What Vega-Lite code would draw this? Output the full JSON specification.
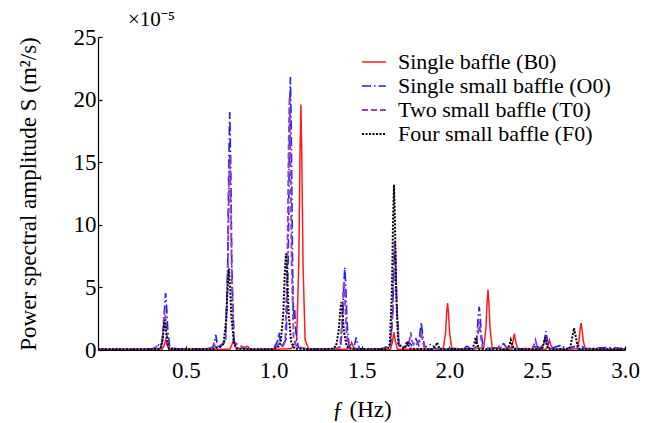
{
  "$schema": "https://vega.github.io/schema/vega-lite/v6.json",
  "autosize": "none",
  "width": 527,
  "height": 313,
  "padding": {"left": 98, "top": 37, "right": 29, "bottom": 73},
  "background": "white",
  "config": {
    "view": {"stroke": null},
    "font": "Liberation Serif",
    "axis": {"grid": false, "domainColor": "#000", "tickColor": "#000", "labelColor": "#000", "titleColor": "#000", "labelFont": "Liberation Serif", "titleFont": "Liberation Serif", "labelFontSize": 23, "titleFontSize": 23, "titleFontWeight": "normal", "domainWidth": 1.2, "tickWidth": 1.2}
  },
  "title": {"text": "×10⁻⁵", "anchor": "start", "frame": "group", "dx": 30, "offset": -4, "fontSize": 21, "font": "Liberation Serif", "fontWeight": "normal", "color": "#000"},
  "data": {"values": [
    {"s":"B0","f":0.0,"v":0.05},{"s":"B0","f":0.2,"v":0.05},{"s":"B0","f":0.33,"v":0.1},
    {"s":"B0","f":0.365,"v":0.05},{"s":"B0","f":0.377,"v":0.4},{"s":"B0","f":0.385,"v":0.8},{"s":"B0","f":0.393,"v":0.4},{"s":"B0","f":0.405,"v":0.05},
    {"s":"B0","f":0.5,"v":0.05},{"s":"B0","f":0.6,"v":0.1},{"s":"B0","f":0.7,"v":0.05},
    {"s":"B0","f":0.75,"v":0.05},{"s":"B0","f":0.762,"v":0.4},{"s":"B0","f":0.77,"v":0.8},{"s":"B0","f":0.778,"v":0.4},{"s":"B0","f":0.79,"v":0.05},
    {"s":"B0","f":0.83,"v":0.2},{"s":"B0","f":0.85,"v":0.3},{"s":"B0","f":0.87,"v":0.05},{"s":"B0","f":1.0,"v":0.05},{"s":"B0","f":1.1,"v":0.1},
    {"s":"B0","f":1.131,"v":0.8},{"s":"B0","f":1.143,"v":6.9},{"s":"B0","f":1.15,"v":15.7},{"s":"B0","f":1.155,"v":19.6},{"s":"B0","f":1.16,"v":15.7},{"s":"B0","f":1.167,"v":6.9},{"s":"B0","f":1.179,"v":0.8},{"s":"B0","f":1.2,"v":0.05},
    {"s":"B0","f":1.3,"v":0.05},{"s":"B0","f":1.42,"v":0.05},{"s":"B0","f":1.436,"v":0.3},{"s":"B0","f":1.444,"v":0.6},{"s":"B0","f":1.452,"v":0.3},{"s":"B0","f":1.465,"v":0.05},
    {"s":"B0","f":1.6,"v":0.05},{"s":"B0","f":1.665,"v":0.05},{"s":"B0","f":1.677,"v":0.7},{"s":"B0","f":1.685,"v":1.4},{"s":"B0","f":1.693,"v":0.7},{"s":"B0","f":1.705,"v":0.05},
    {"s":"B0","f":1.8,"v":0.05},{"s":"B0","f":1.9,"v":0.1},
    {"s":"B0","f":1.966,"v":0.15},{"s":"B0","f":1.978,"v":1.3},{"s":"B0","f":1.985,"v":3.0},{"s":"B0","f":1.99,"v":3.75},{"s":"B0","f":1.995,"v":3.0},{"s":"B0","f":2.002,"v":1.3},{"s":"B0","f":2.014,"v":0.15},
    {"s":"B0","f":2.1,"v":0.05},
    {"s":"B0","f":2.196,"v":0.2},{"s":"B0","f":2.208,"v":1.7},{"s":"B0","f":2.215,"v":3.8},{"s":"B0","f":2.22,"v":4.8},{"s":"B0","f":2.225,"v":3.8},{"s":"B0","f":2.232,"v":1.7},{"s":"B0","f":2.244,"v":0.2},
    {"s":"B0","f":2.3,"v":0.05},{"s":"B0","f":2.35,"v":0.05},{"s":"B0","f":2.362,"v":0.65},{"s":"B0","f":2.37,"v":1.3},{"s":"B0","f":2.378,"v":0.65},{"s":"B0","f":2.39,"v":0.05},
    {"s":"B0","f":2.5,"v":0.05},{"s":"B0","f":2.55,"v":0.05},{"s":"B0","f":2.562,"v":0.4},{"s":"B0","f":2.57,"v":0.8},{"s":"B0","f":2.578,"v":0.4},{"s":"B0","f":2.59,"v":0.05},
    {"s":"B0","f":2.65,"v":0.05},{"s":"B0","f":2.726,"v":0.1},{"s":"B0","f":2.738,"v":0.75},{"s":"B0","f":2.745,"v":1.7},{"s":"B0","f":2.75,"v":2.15},{"s":"B0","f":2.755,"v":1.7},{"s":"B0","f":2.762,"v":0.75},{"s":"B0","f":2.774,"v":0.1},
    {"s":"B0","f":2.85,"v":0.05},{"s":"B0","f":3.0,"v":0.05},

    {"s":"O0","f":0.0,"v":0.05},{"s":"O0","f":0.25,"v":0.05},{"s":"O0","f":0.33,"v":0.1},{"s":"O0","f":0.345,"v":0.4},{"s":"O0","f":0.355,"v":0.2},
    {"s":"O0","f":0.365,"v":0.6},{"s":"O0","f":0.373,"v":1.6},{"s":"O0","f":0.38,"v":3.6},{"s":"O0","f":0.385,"v":4.55},{"s":"O0","f":0.39,"v":3.6},{"s":"O0","f":0.397,"v":1.6},{"s":"O0","f":0.409,"v":0.2},{"s":"O0","f":0.42,"v":0.1},
    {"s":"O0","f":0.5,"v":0.05},{"s":"O0","f":0.6,"v":0.1},{"s":"O0","f":0.65,"v":0.1},{"s":"O0","f":0.662,"v":0.6},{"s":"O0","f":0.67,"v":1.2},{"s":"O0","f":0.678,"v":0.6},{"s":"O0","f":0.69,"v":0.1},
    {"s":"O0","f":0.726,"v":0.8},{"s":"O0","f":0.738,"v":6.6},{"s":"O0","f":0.745,"v":15.2},{"s":"O0","f":0.75,"v":19.0},{"s":"O0","f":0.755,"v":15.2},{"s":"O0","f":0.762,"v":6.6},{"s":"O0","f":0.774,"v":0.8},{"s":"O0","f":0.79,"v":0.2},
    {"s":"O0","f":0.85,"v":0.1},{"s":"O0","f":0.95,"v":0.05},{"s":"O0","f":1.0,"v":0.1},{"s":"O0","f":1.022,"v":0.7},{"s":"O0","f":1.03,"v":1.4},{"s":"O0","f":1.038,"v":0.7},{"s":"O0","f":1.05,"v":0.2},
    {"s":"O0","f":1.071,"v":0.9},{"s":"O0","f":1.083,"v":7.6},{"s":"O0","f":1.09,"v":17.4},{"s":"O0","f":1.095,"v":21.8},{"s":"O0","f":1.1,"v":17.4},{"s":"O0","f":1.107,"v":7.6},{"s":"O0","f":1.112,"v":2.5},{"s":"O0","f":1.118,"v":3.5},{"s":"O0","f":1.126,"v":1.5},{"s":"O0","f":1.14,"v":0.2},
    {"s":"O0","f":1.2,"v":0.05},{"s":"O0","f":1.3,"v":0.1},{"s":"O0","f":1.36,"v":0.1},
    {"s":"O0","f":1.381,"v":0.3},{"s":"O0","f":1.393,"v":2.3},{"s":"O0","f":1.4,"v":5.3},{"s":"O0","f":1.405,"v":6.6},{"s":"O0","f":1.41,"v":5.3},{"s":"O0","f":1.417,"v":2.3},{"s":"O0","f":1.429,"v":0.3},
    {"s":"O0","f":1.45,"v":0.1},{"s":"O0","f":1.462,"v":0.5},{"s":"O0","f":1.47,"v":1.0},{"s":"O0","f":1.478,"v":0.5},{"s":"O0","f":1.49,"v":0.1},
    {"s":"O0","f":1.55,"v":0.1},{"s":"O0","f":1.6,"v":0.05},
    {"s":"O0","f":1.666,"v":0.35},{"s":"O0","f":1.678,"v":3.0},{"s":"O0","f":1.685,"v":6.8},{"s":"O0","f":1.69,"v":8.5},{"s":"O0","f":1.695,"v":6.8},{"s":"O0","f":1.702,"v":3.0},{"s":"O0","f":1.714,"v":0.35},
    {"s":"O0","f":1.75,"v":0.2},{"s":"O0","f":1.77,"v":0.6},{"s":"O0","f":1.79,"v":0.3},{"s":"O0","f":1.81,"v":0.9},{"s":"O0","f":1.825,"v":0.4},{"s":"O0","f":1.84,"v":2.2},{"s":"O0","f":1.85,"v":1.0},{"s":"O0","f":1.86,"v":0.2},
    {"s":"O0","f":1.9,"v":0.5},{"s":"O0","f":1.92,"v":0.1},{"s":"O0","f":2.0,"v":0.05},{"s":"O0","f":2.08,"v":0.1},{"s":"O0","f":2.1,"v":0.3},{"s":"O0","f":2.12,"v":0.1},
    {"s":"O0","f":2.146,"v":0.15},{"s":"O0","f":2.158,"v":1.2},{"s":"O0","f":2.165,"v":2.8},{"s":"O0","f":2.17,"v":3.45},{"s":"O0","f":2.175,"v":2.8},{"s":"O0","f":2.182,"v":1.2},{"s":"O0","f":2.194,"v":0.15},
    {"s":"O0","f":2.25,"v":0.1},{"s":"O0","f":2.31,"v":0.5},{"s":"O0","f":2.33,"v":0.1},{"s":"O0","f":2.45,"v":0.1},{"s":"O0","f":2.5,"v":0.3},{"s":"O0","f":2.52,"v":0.1},
    {"s":"O0","f":2.53,"v":0.1},{"s":"O0","f":2.542,"v":0.75},{"s":"O0","f":2.55,"v":1.5},{"s":"O0","f":2.558,"v":0.75},{"s":"O0","f":2.57,"v":0.1},
    {"s":"O0","f":2.64,"v":0.4},{"s":"O0","f":2.66,"v":0.1},{"s":"O0","f":2.75,"v":0.4},{"s":"O0","f":2.77,"v":0.1},{"s":"O0","f":2.9,"v":0.2},{"s":"O0","f":3.0,"v":0.1},

    {"s":"T0","f":0.0,"v":0.05},{"s":"T0","f":0.3,"v":0.05},{"s":"T0","f":0.34,"v":0.3},{"s":"T0","f":0.355,"v":0.1},
    {"s":"T0","f":0.36,"v":0.2},{"s":"T0","f":0.368,"v":1.1},{"s":"T0","f":0.375,"v":2.6},{"s":"T0","f":0.38,"v":3.2},{"s":"T0","f":0.385,"v":2.6},{"s":"T0","f":0.392,"v":1.1},{"s":"T0","f":0.404,"v":0.15},
    {"s":"T0","f":0.5,"v":0.05},{"s":"T0","f":0.6,"v":0.05},{"s":"T0","f":0.65,"v":0.2},{"s":"T0","f":0.66,"v":0.5},{"s":"T0","f":0.67,"v":0.2},
    {"s":"T0","f":0.726,"v":0.6},{"s":"T0","f":0.738,"v":5.4},{"s":"T0","f":0.745,"v":12.4},{"s":"T0","f":0.75,"v":15.5},{"s":"T0","f":0.755,"v":12.4},{"s":"T0","f":0.762,"v":5.4},{"s":"T0","f":0.774,"v":0.6},
    {"s":"T0","f":0.85,"v":0.05},{"s":"T0","f":1.0,"v":0.05},{"s":"T0","f":1.03,"v":0.5},{"s":"T0","f":1.05,"v":0.3},
    {"s":"T0","f":1.066,"v":0.8},{"s":"T0","f":1.078,"v":7.1},{"s":"T0","f":1.085,"v":16.2},{"s":"T0","f":1.09,"v":20.2},{"s":"T0","f":1.095,"v":16.2},{"s":"T0","f":1.102,"v":7.1},{"s":"T0","f":1.114,"v":0.8},
    {"s":"T0","f":1.13,"v":0.3},{"s":"T0","f":1.2,"v":0.05},{"s":"T0","f":1.35,"v":0.1},
    {"s":"T0","f":1.376,"v":0.2},{"s":"T0","f":1.388,"v":1.9},{"s":"T0","f":1.395,"v":4.4},{"s":"T0","f":1.4,"v":5.5},{"s":"T0","f":1.405,"v":4.4},{"s":"T0","f":1.412,"v":1.9},{"s":"T0","f":1.424,"v":0.2},
    {"s":"T0","f":1.5,"v":0.05},{"s":"T0","f":1.6,"v":0.05},
    {"s":"T0","f":1.666,"v":0.35},{"s":"T0","f":1.678,"v":3.1},{"s":"T0","f":1.685,"v":7.0},{"s":"T0","f":1.69,"v":8.8},{"s":"T0","f":1.695,"v":7.0},{"s":"T0","f":1.702,"v":3.1},{"s":"T0","f":1.714,"v":0.35},
    {"s":"T0","f":1.75,"v":0.2},{"s":"T0","f":1.772,"v":0.7},{"s":"T0","f":1.78,"v":1.4},{"s":"T0","f":1.788,"v":0.7},{"s":"T0","f":1.8,"v":0.3},{"s":"T0","f":1.832,"v":0.7},{"s":"T0","f":1.84,"v":1.5},{"s":"T0","f":1.848,"v":0.7},{"s":"T0","f":1.86,"v":0.1},
    {"s":"T0","f":2.0,"v":0.05},{"s":"T0","f":2.1,"v":0.1},
    {"s":"T0","f":2.15,"v":0.1},{"s":"T0","f":2.162,"v":1.15},{"s":"T0","f":2.17,"v":2.3},{"s":"T0","f":2.178,"v":1.15},{"s":"T0","f":2.19,"v":0.1},
    {"s":"T0","f":2.3,"v":0.2},{"s":"T0","f":2.4,"v":0.1},{"s":"T0","f":2.47,"v":0.1},{"s":"T0","f":2.482,"v":0.4},{"s":"T0","f":2.49,"v":0.8},{"s":"T0","f":2.498,"v":0.4},{"s":"T0","f":2.51,"v":0.1},
    {"s":"T0","f":2.542,"v":0.5},{"s":"T0","f":2.55,"v":1.0},{"s":"T0","f":2.558,"v":0.5},{"s":"T0","f":2.57,"v":0.1},{"s":"T0","f":2.8,"v":0.1},{"s":"T0","f":3.0,"v":0.05},

    {"s":"F0","f":0.0,"v":0.05},{"s":"F0","f":0.2,"v":0.05},{"s":"F0","f":0.3,"v":0.05},{"s":"F0","f":0.35,"v":0.1},
    {"s":"F0","f":0.356,"v":0.1},{"s":"F0","f":0.368,"v":0.85},{"s":"F0","f":0.375,"v":1.9},{"s":"F0","f":0.38,"v":2.4},{"s":"F0","f":0.385,"v":1.9},{"s":"F0","f":0.392,"v":0.85},{"s":"F0","f":0.404,"v":0.1},
    {"s":"F0","f":0.5,"v":0.05},{"s":"F0","f":0.65,"v":0.05},{"s":"F0","f":0.7,"v":0.3},
    {"s":"F0","f":0.715,"v":0.5},{"s":"F0","f":0.73,"v":2.5},{"s":"F0","f":0.738,"v":5.0},{"s":"F0","f":0.745,"v":6.5},{"s":"F0","f":0.752,"v":5.0},{"s":"F0","f":0.76,"v":2.5},{"s":"F0","f":0.775,"v":0.5},{"s":"F0","f":0.79,"v":0.1},
    {"s":"F0","f":0.9,"v":0.05},{"s":"F0","f":1.0,"v":0.05},{"s":"F0","f":1.03,"v":0.3},
    {"s":"F0","f":1.04,"v":0.6},{"s":"F0","f":1.055,"v":3.0},{"s":"F0","f":1.063,"v":6.0},{"s":"F0","f":1.07,"v":7.7},{"s":"F0","f":1.077,"v":6.0},{"s":"F0","f":1.085,"v":3.0},{"s":"F0","f":1.1,"v":0.6},{"s":"F0","f":1.12,"v":0.1},
    {"s":"F0","f":1.25,"v":0.05},{"s":"F0","f":1.33,"v":0.1},
    {"s":"F0","f":1.355,"v":0.3},{"s":"F0","f":1.37,"v":1.5},{"s":"F0","f":1.378,"v":3.0},{"s":"F0","f":1.385,"v":3.8},{"s":"F0","f":1.392,"v":3.0},{"s":"F0","f":1.4,"v":1.5},{"s":"F0","f":1.415,"v":0.3},{"s":"F0","f":1.43,"v":0.1},
    {"s":"F0","f":1.55,"v":0.05},{"s":"F0","f":1.65,"v":0.1},
    {"s":"F0","f":1.661,"v":0.5},{"s":"F0","f":1.673,"v":4.6},{"s":"F0","f":1.68,"v":10.6},{"s":"F0","f":1.685,"v":13.2},{"s":"F0","f":1.69,"v":10.6},{"s":"F0","f":1.697,"v":4.6},{"s":"F0","f":1.709,"v":0.5},
    {"s":"F0","f":1.74,"v":0.1},{"s":"F0","f":1.752,"v":0.35},{"s":"F0","f":1.76,"v":0.7},{"s":"F0","f":1.768,"v":0.35},{"s":"F0","f":1.78,"v":0.1},
    {"s":"F0","f":1.9,"v":0.05},{"s":"F0","f":1.922,"v":0.3},{"s":"F0","f":1.93,"v":0.6},{"s":"F0","f":1.938,"v":0.3},{"s":"F0","f":1.95,"v":0.05},
    {"s":"F0","f":2.05,"v":0.05},{"s":"F0","f":2.13,"v":0.05},{"s":"F0","f":2.142,"v":0.5},{"s":"F0","f":2.15,"v":1.0},{"s":"F0","f":2.158,"v":0.5},{"s":"F0","f":2.17,"v":0.05},
    {"s":"F0","f":2.3,"v":0.05},{"s":"F0","f":2.33,"v":0.05},{"s":"F0","f":2.342,"v":0.4},{"s":"F0","f":2.35,"v":0.8},{"s":"F0","f":2.358,"v":0.4},{"s":"F0","f":2.37,"v":0.05},
    {"s":"F0","f":2.5,"v":0.05},{"s":"F0","f":2.525,"v":0.05},{"s":"F0","f":2.537,"v":0.5},{"s":"F0","f":2.545,"v":1.0},{"s":"F0","f":2.553,"v":0.5},{"s":"F0","f":2.565,"v":0.05},
    {"s":"F0","f":2.68,"v":0.05},{"s":"F0","f":2.69,"v":0.3},{"s":"F0","f":2.702,"v":1.2},{"s":"F0","f":2.71,"v":1.75},{"s":"F0","f":2.718,"v":1.2},{"s":"F0","f":2.73,"v":0.3},{"s":"F0","f":2.74,"v":0.05},
    {"s":"F0","f":2.85,"v":0.05},{"s":"F0","f":3.0,"v":0.05}
  ]},
  "mark": {"type": "line", "clip": true},
  "encoding": {
    "x": {"field": "f", "type": "quantitative", "scale": {"domain": [0, 3], "nice": false, "zero": false},
      "axis": {"title": "ƒ (Hz)", "values": [0.5, 1, 1.5, 2, 2.5, 3], "format": ".1f", "tickSize": -4, "labelPadding": 13, "titlePadding": 16, "labelFlush": false, "labelFont": "Liberation Serif", "titleFont": "Liberation Serif"}},
    "y": {"field": "v", "type": "quantitative", "scale": {"domain": [0, 25], "nice": false},
      "axis": {"title": "Power spectral amplitude S (m²/s)", "values": [0, 5, 10, 15, 20, 25], "tickSize": -4, "labelPadding": 6, "titlePadding": 33, "labelFlush": false, "labelFont": "Liberation Serif", "titleFont": "Liberation Serif"}},
    "color": {"field": "s", "type": "nominal",
      "scale": {"domain": ["B0", "O0", "T0", "F0"], "range": ["#ff1a1a", "#1f1fff", "#9441c4", "#000000"]},
      "legend": {"title": null, "orient": "none", "legendX": 263, "legendY": 12, "symbolType": "stroke", "symbolSize": 576, "symbolStrokeWidth": 2, "labelFontSize": 22, "labelFont": "Liberation Serif", "labelColor": "#000", "labelLimit": 400, "rowPadding": 0, "labelOffset": 11,
        "labelExpr": "datum.label == 'B0' ? 'Single baffle (B0)' : datum.label == 'O0' ? 'Single small baffle (O0)' : datum.label == 'T0' ? 'Two small baffle (T0)' : 'Four small baffle (F0)'"}},
    "strokeDash": {"field": "s", "type": "nominal",
      "scale": {"domain": ["B0", "O0", "T0", "F0"], "range": [[1, 0], [9, 3, 1.5, 3], [6, 3], [2, 1.5]]},
      "legend": {"title": null, "orient": "none", "legendX": 263, "legendY": 12, "symbolType": "stroke", "symbolSize": 576, "symbolStrokeWidth": 2, "labelFontSize": 22, "labelFont": "Liberation Serif", "labelColor": "#000", "labelLimit": 400, "rowPadding": 0, "labelOffset": 11,
        "labelExpr": "datum.label == 'B0' ? 'Single baffle (B0)' : datum.label == 'O0' ? 'Single small baffle (O0)' : datum.label == 'T0' ? 'Two small baffle (T0)' : 'Four small baffle (F0)'"}},
    "strokeWidth": {"field": "s", "type": "nominal", "scale": {"domain": ["B0", "O0", "T0", "F0"], "range": [1.5, 2, 2, 2.5]}, "legend": null}
  }
}
